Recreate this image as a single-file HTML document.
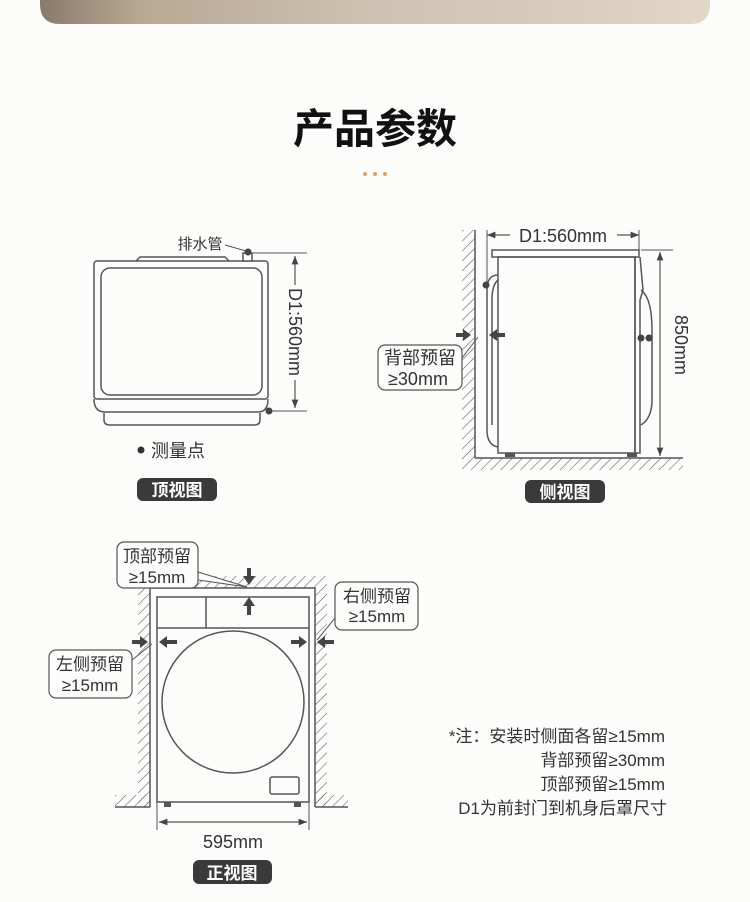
<!DOCTYPE html>
<html><head><meta charset="utf-8">
<style>
html,body{margin:0;padding:0;background:#fcfcfb;}
body{width:750px;height:902px;overflow:hidden;position:relative;font-family:"Liberation Sans","Noto Sans CJK SC",sans-serif;}
svg{position:absolute;left:0;top:0;}
</style></head><body>
<svg width="750" height="902" viewBox="0 0 750 902" xmlns="http://www.w3.org/2000/svg" font-family="Liberation Sans, Noto Sans CJK SC, sans-serif">
<defs>
<linearGradient id="ph" x1="0" x2="1" y1="0" y2="0">
<stop offset="0" stop-color="#8a7a68"/><stop offset="0.15" stop-color="#b8a894"/><stop offset="0.5" stop-color="#cfc2b2"/><stop offset="0.8" stop-color="#d9cdbd"/><stop offset="1" stop-color="#e2d7c9"/>
</linearGradient>
<pattern id="hatch" width="7" height="7" patternUnits="userSpaceOnUse" patternTransform="rotate(45)">
<line x1="0" y1="0" x2="0" y2="7" stroke="#666" stroke-width="1.2"/>
</pattern>
<marker id="ah" viewBox="0 0 10 10" refX="10" refY="5" markerWidth="7" markerHeight="7" orient="auto-start-reverse"><path d="M0,1 L10,5 L0,9 z" fill="#444"/></marker>
</defs>
<path d="M40,0 H710 V4 Q710,24 690,24 H60 Q40,24 40,4 Z" fill="url(#ph)"/>

<text x="375" y="143" text-anchor="middle" font-size="41" font-weight="bold" fill="#111">产品参数</text>
<circle cx="365" cy="174" r="2" fill="#e0a060"/><circle cx="375" cy="174" r="2" fill="#e0a060"/><circle cx="385" cy="174" r="2" fill="#e0a060"/>

<g stroke="#555" stroke-width="1.5" fill="none">
<!-- TOP VIEW -->
<path d="M136,261 L140,257 H225 L229,261"/>
<rect x="94" y="261" width="174" height="138" rx="3"/>
<rect x="101" y="268" width="161" height="127" rx="9"/>
<path d="M94,399 Q94,412 105,412 H258 Q268,412 268,399"/>
<path d="M104,413 V420 Q104,425 110,425 H254 Q260,425 260,420 V413"/>
<rect x="243" y="253" width="9" height="8" fill="#fff"/>
<line x1="225" y1="245" x2="246" y2="251" stroke-width="1"/>
<line x1="250" y1="253" x2="307" y2="253" stroke-width="1"/>
<line x1="268" y1="411" x2="307" y2="411" stroke-width="1"/>
<line x1="295" y1="256" x2="295" y2="285" stroke-width="1.2" marker-start="url(#ah)"/>
<line x1="295" y1="380" x2="295" y2="408" stroke-width="1.2" marker-end="url(#ah)"/>
</g>
<circle cx="248" cy="252" r="3.5" fill="#444"/>
<circle cx="269" cy="411" r="3.5" fill="#444"/>
<text x="200" y="249" text-anchor="middle" font-size="15" fill="#333">排水管</text>
<text transform="translate(289,332) rotate(90)" text-anchor="middle" font-size="18" fill="#333">D1:560mm</text>
<circle cx="141" cy="450" r="3.5" fill="#333"/>
<text x="151" y="457" font-size="18" fill="#333">测量点</text>
<rect x="137" y="478" width="80" height="23" rx="6" fill="#3a3a3a"/>
<text x="177" y="496" text-anchor="middle" font-size="17" font-weight="bold" fill="#fff">顶视图</text>

<!-- SIDE VIEW -->
<rect x="462" y="230" width="13" height="228" fill="url(#hatch)"/>
<rect x="462" y="458" width="221" height="12" fill="url(#hatch)"/>
<g stroke="#555" stroke-width="1.5" fill="none">
<line x1="475" y1="230" x2="475" y2="458"/>
<line x1="475" y1="458" x2="683" y2="458"/>
<rect x="492" y="250" width="147" height="7"/>
<rect x="498" y="257" width="137" height="196"/>
<path d="M635,257 V453 H640 V300 L643,290 L640,257"/>
<path d="M641,290 Q652,298 652,330 V400 Q652,418 641,425"/>
<path d="M498,275 Q487,275 487,290 V430 Q487,445 498,447"/>
<path d="M498,280 Q492,285 492,300 V425"/>
<line x1="487" y1="230" x2="487" y2="345" stroke-width="1"/>
<line x1="639" y1="230" x2="639" y2="250" stroke-width="1"/>
<line x1="487" y1="235" x2="510" y2="235" stroke-width="1.2" marker-start="url(#ah)"/>
<line x1="617" y1="235" x2="639" y2="235" stroke-width="1.2" marker-end="url(#ah)"/>
<line x1="641" y1="250" x2="673" y2="250" stroke-width="1"/>
<line x1="660" y1="252" x2="660" y2="456" stroke-width="1.2" marker-start="url(#ah)" marker-end="url(#ah)"/>
<rect x="378" y="345" width="84" height="45" rx="7" fill="#fcfcfb" stroke-width="1.2"/>
<path d="M462,358 L478,337" stroke-width="1"/>
</g>
<rect x="505" y="453" width="10" height="4" fill="#555"/><rect x="627" y="453" width="10" height="4" fill="#555"/>
<circle cx="486" cy="285" r="3.5" fill="#444"/>
<circle cx="641" cy="338" r="3.5" fill="#444"/><circle cx="649" cy="338" r="3.5" fill="#444"/>
<path d="M456,333 H463 V329 L471,335 L463,341 V337 H456 Z" fill="#444"/>
<path d="M505,333 H497 V329 L489,335 L497,341 V337 H505 Z" fill="#444"/>
<text x="563" y="242" text-anchor="middle" font-size="18" fill="#333">D1:560mm</text>
<text transform="translate(675,345) rotate(90)" text-anchor="middle" font-size="18" fill="#333">850mm</text>
<text x="420" y="364" text-anchor="middle" font-size="18" fill="#333">背部预留</text>
<text x="418" y="385" text-anchor="middle" font-size="18" fill="#333">≥30mm</text>
<rect x="525" y="480" width="80" height="23" rx="6" fill="#3a3a3a"/>
<text x="565" y="498" text-anchor="middle" font-size="17" font-weight="bold" fill="#fff">侧视图</text>

<!-- FRONT VIEW -->
<rect x="138" y="588" width="12" height="219" fill="url(#hatch)"/>
<rect x="315" y="588" width="12" height="219" fill="url(#hatch)"/>
<rect x="150" y="576" width="177" height="12" fill="url(#hatch)"/>
<rect x="115" y="795" width="35" height="12" fill="url(#hatch)"/>
<rect x="315" y="795" width="33" height="12" fill="url(#hatch)"/>
<g stroke="#555" stroke-width="1.5" fill="none">
<path d="M150,807 V588 H315 V807"/>
<line x1="115" y1="807" x2="150" y2="807"/>
<line x1="315" y1="807" x2="348" y2="807"/>
<rect x="157" y="597" width="152" height="205"/>
<line x1="157" y1="628" x2="309" y2="628"/>
<line x1="206" y1="597" x2="206" y2="628"/>
<circle cx="233" cy="702" r="71"/>
<rect x="270" y="777" width="29" height="17" rx="2"/>
<line x1="157" y1="802" x2="157" y2="830" stroke-width="1"/>
<line x1="309" y1="802" x2="309" y2="830" stroke-width="1"/>
<line x1="159" y1="822" x2="307" y2="822" stroke-width="1.2" marker-start="url(#ah)" marker-end="url(#ah)"/>
</g>
<rect x="164" y="802" width="7" height="5" fill="#555"/><rect x="294" y="802" width="7" height="5" fill="#555"/>
<path d="M247,568 V576 H243 L249,585 L255,576 H251 V568 Z" fill="#444"/>
<path d="M247,615 V606 H243 L249,597 L255,606 H251 V615 Z" fill="#444"/>
<path d="M132,640 H140 V636 L148,642 L140,648 V644 H132 Z" fill="#444"/>
<path d="M177,640 H167 V636 L159,642 L167,648 V644 H177 Z" fill="#444"/>
<path d="M291,640 H299 V636 L307,642 L299,648 V644 H291 Z" fill="#444"/>
<path d="M334,640 H325 V636 L317,642 L325,648 V644 H334 Z" fill="#444"/>
<g stroke="#555" stroke-width="1.2" fill="#fcfcfb">
<path d="M198,572 L247,587 L198,580" stroke-width="1"/>
<rect x="117" y="542" width="81" height="46" rx="7"/>
<path d="M335,618 L317,640" fill="none" stroke-width="1"/>
<rect x="335" y="582" width="83" height="48" rx="7"/>
<path d="M132,660 L152,644" fill="none" stroke-width="1"/>
<rect x="49" y="650" width="83" height="48" rx="7"/>
</g>
<text x="157" y="562" text-anchor="middle" font-size="17" fill="#333">顶部预留</text>
<text x="157" y="583" text-anchor="middle" font-size="17" fill="#333">≥15mm</text>
<text x="377" y="602" text-anchor="middle" font-size="17" fill="#333">右侧预留</text>
<text x="377" y="622" text-anchor="middle" font-size="17" fill="#333">≥15mm</text>
<text x="90" y="670" text-anchor="middle" font-size="17" fill="#333">左侧预留</text>
<text x="90" y="691" text-anchor="middle" font-size="17" fill="#333">≥15mm</text>
<text x="233" y="848" text-anchor="middle" font-size="18" fill="#333">595mm</text>
<rect x="193" y="860" width="79" height="24" rx="6" fill="#3a3a3a"/>
<text x="232" y="879" text-anchor="middle" font-size="17" font-weight="bold" fill="#fff">正视图</text>

<g font-size="17" fill="#333" text-anchor="end">
<text x="665" y="742">*注：安装时侧面各留≥15mm</text>
<text x="665" y="766">背部预留≥30mm</text>
<text x="665" y="790">顶部预留≥15mm</text>
<text x="667" y="814">D1为前封门到机身后罩尺寸</text>
</g>
</svg>
</body></html>
